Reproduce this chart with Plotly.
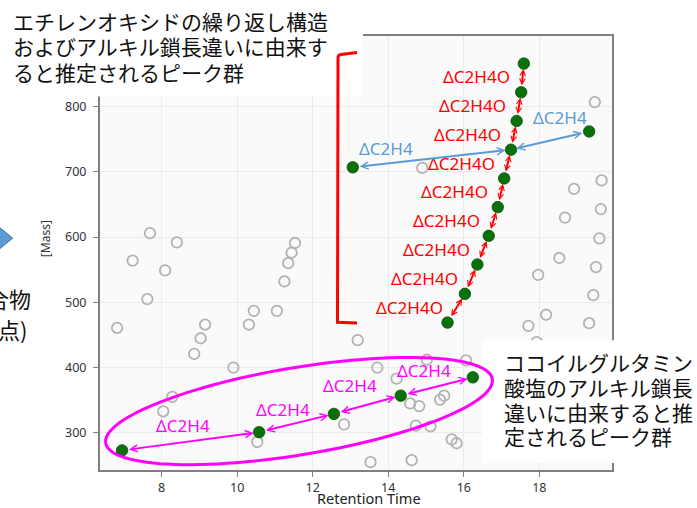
import math
import plotly.graph_objects as go

# ---------------------------------------------------------------- data
# all detected peaks (retention time [min], mass)
rt_other = [7.23, 7.69, 8.09, 8.40, 11.53, 11.44, 11.35, 11.25, 7.62, 6.82,
            8.86, 9.03, 9.15, 8.28, 8.04, 9.90, 10.31, 10.44, 11.05, 10.53,
            12.83, 13.19, 17.71, 18.18, 19.32, 19.43, 17.93, 16.06, 15.02, 13.71,
            14.22, 14.58, 14.82, 15.37, 15.48, 14.73, 15.12, 15.68, 15.81, 14.62,
            13.53, 14.90, 19.47, 18.92, 19.65, 18.68, 19.63, 19.59, 18.53, 19.50,
            17.97]
mass_other = [564, 606, 549, 592, 591, 576, 560, 532, 505, 461,
              421, 445, 466, 355, 333, 400, 466, 487, 487, 286,
              313, 442, 464, 481, 468, 511, 439, 411, 412, 400,
              383, 345, 341, 351, 357, 311, 310, 290, 284, 258,
              255, 706, 807, 674, 687, 630, 643, 598, 568, 554,
              542]

# ethylene-oxide ladder (ΔC2H4O = 44)
rt_eo = [15.57, 16.03, 16.36, 16.66, 16.90, 17.07, 17.25, 17.40, 17.52, 17.59]
mass_eo = [469, 513, 558, 602, 646, 690, 734, 778, 822, 866]

# alkyl-chain neighbours of the 734 peak (ΔC2H4 = 28)
rt_alkyl = [13.06, 19.32]
mass_alkyl = [707, 762]
hub_index = 6  # index in the EO ladder the alkyl neighbours hang from

# cocoyl glutamate alkyl-chain ladder (ΔC2H4 = 28)
rt_glu = [6.95, 10.58, 12.56, 14.33, 16.24]
mass_glu = [273, 301, 329, 357, 385]

x_ticks = [8, 10, 12, 14, 16, 18]
y_ticks = [300, 400, 500, 600, 700, 800]

label_eo = "ΔC2H4O"
label_alkyl = "ΔC2H4"

text_eo = ["エチレンオキシドの繰り返し構造",
           "およびアルキル鎖長違いに由来す",
           "ると推定されるピーク群"]
text_glu = ["ココイルグルタミン",
            "酸塩のアルキル鎖長",
            "違いに由来すると推",
            "定されるピーク群"]
text_side = ["合物", "点)"]

# ---------------------------------------------------------------- layout geometry
W, H = 697, 508
L, R, T, B = 100, 612, 36, 474
X_RANGE = [6.366, 19.925]
Y_RANGE = [243.0, 908.3]

RED = "#ff0000"
BLUE = "#5b9bd5"
MAGENTA = "#ff00ff"
GREEN = "#0a700a"
JP_FONT = "Noto Sans CJK JP"
LAT_FONT = "Noto Sans"


def xp(p):
    """pixel column -> paper x"""
    return (p - L) / (R - L)


def yp(p):
    """pixel row -> paper y"""
    return (B - p) / (B - T)


fig = go.Figure()

fig.add_trace(go.Scatter(
    x=rt_other, y=mass_other, mode="markers",
    marker=dict(symbol="circle-open", size=10.5, color="#b3b3b3",
                line=dict(width=1.8, color="#b3b3b3")),
    hoverinfo="skip", showlegend=False))

for xs, ys in ((rt_eo, mass_eo), (rt_alkyl, mass_alkyl), (rt_glu, mass_glu)):
    fig.add_trace(go.Scatter(
        x=xs, y=ys, mode="markers",
        marker=dict(symbol="circle", size=11.5, color=GREEN,
                    line=dict(width=0.8, color="#075407")),
        hoverinfo="skip", showlegend=False))

annotations = []
shapes = []


def double_arrow(x0, y0, x1, y1, color, size):
    annotations.append(dict(
        x=x1, y=y1, ax=x0, ay=y0, xref="x", yref="y", axref="x", ayref="y",
        text="", showarrow=True, arrowside="end+start",
        arrowhead=5, startarrowhead=5, arrowsize=size, startarrowsize=size,
        arrowwidth=2, arrowcolor=color, standoff=5.5, startstandoff=5.5))


def label(x, y, text, color, xanchor, xshift, yshift):
    annotations.append(dict(
        x=x, y=y, xref="x", yref="y", text=text, showarrow=False,
        xanchor=xanchor, yanchor="middle", xshift=xshift, yshift=yshift,
        font=dict(family=LAT_FONT, size=17, color=color)))


# EO ladder arrows and labels
for i in range(len(rt_eo) - 1):
    double_arrow(rt_eo[i], mass_eo[i], rt_eo[i + 1], mass_eo[i + 1], RED, 0.55)
    label((rt_eo[i] + rt_eo[i + 1]) / 2, (mass_eo[i] + mass_eo[i + 1]) / 2,
          label_eo, RED, "right", -11, 1)

# alkyl neighbours of the hub peak
hx, hy = rt_eo[hub_index], mass_eo[hub_index]
blue_shift = [(-46, 10), (10, 23)]
for (ax_, ay_), (sx, sy) in zip(zip(rt_alkyl, mass_alkyl), blue_shift):
    double_arrow(ax_, ay_, hx, hy, BLUE, 0.7)
    label((ax_ + hx) / 2, (ay_ + hy) / 2, label_alkyl, BLUE, "center", sx, sy)

# cocoyl glutamate ladder
glu_shift = [(-8, 16), (-14, 14), (-17, 19), (-13, 16)]
for i in range(len(rt_glu) - 1):
    double_arrow(rt_glu[i], mass_glu[i], rt_glu[i + 1], mass_glu[i + 1], MAGENTA, 0.7)
    sx, sy = glu_shift[i]
    label((rt_glu[i] + rt_glu[i + 1]) / 2, (mass_glu[i] + mass_glu[i + 1]) / 2,
          label_alkyl, MAGENTA, "center", sx, sy)

# white text boxes over the plot
shapes.append(dict(type="rect", xref="paper", yref="paper", layer="above",
                   x0=xp(-2), x1=xp(363), y0=yp(97), y1=yp(-2),
                   fillcolor="white", line=dict(width=0)))
shapes.append(dict(type="rect", xref="paper", yref="paper", layer="above",
                   x0=xp(482), x1=xp(699), y0=yp(467), y1=yp(343),
                   fillcolor="white", line=dict(width=0)))

# red bracket grouping the EO ladder
shapes.append(dict(type="path", xref="paper", yref="paper", layer="above",
                   path=(f"M{xp(357)},{yp(52.7)} L{xp(341)},{yp(54.6)} "
                         f"Q{xp(338)},{yp(55)} {xp(338)},{yp(58)} "
                         f"L{xp(337.5)},{yp(325)} L{xp(357)},{yp(325.6)}"),
                   line=dict(color=RED, width=3)))

# magenta ellipse around the glutamate ladder
cx, cy, a, b, th = 299.0, 414.5, 196.0, 44.0, math.radians(9.5)
pts = []
for k in range(121):
    t = 2 * math.pi * k / 120
    px = cx + a * math.cos(t) * math.cos(th) - b * math.sin(t) * math.sin(th)
    py = cy - a * math.cos(t) * math.sin(th) - b * math.sin(t) * math.cos(th)
    pts.append(f"{xp(px):.5f},{yp(py):.5f}")
shapes.append(dict(type="path", xref="paper", yref="paper", layer="above",
                   path="M" + " L".join(pts) + " Z",
                   line=dict(color=MAGENTA, width=3)))

# blue chevron at the left edge
shapes.append(dict(type="path", xref="paper", yref="paper", layer="above",
                   path=f"M{xp(-3)},{yp(227)} L{xp(12.7)},{yp(240)} L{xp(-3)},{yp(253)} Z",
                   fillcolor="#5b9bd5", line=dict(color="#41719c", width=1)))

# explanatory texts, one annotation per line for tight line pitch
for i, line in enumerate(text_eo):
    annotations.append(dict(x=xp(11), y=yp(20 + 26 * i), xref="paper", yref="paper",
                            text=line, showarrow=False, xanchor="left", yanchor="middle",
                            height=25, font=dict(family=JP_FONT, size=21, color="#111")))
for i, line in enumerate(text_glu):
    annotations.append(dict(x=xp(502), y=yp(365 + 25 * i), xref="paper", yref="paper",
                            text=line, showarrow=False, xanchor="left", yanchor="middle",
                            height=24, font=dict(family=JP_FONT, size=21, color="#111")))
for i, line in enumerate(text_side):
    annotations.append(dict(x=xp(33 - 4 * i), y=yp(300 + 32 * i), xref="paper", yref="paper",
                            text=line, showarrow=False, xanchor="right", yanchor="middle",
                            font=dict(family=JP_FONT, size=22, color="#111")))

# axis titles
annotations.append(dict(x=xp(369), y=yp(502), xref="paper", yref="paper",
                        text="Retention Time", showarrow=False,
                        xanchor="center", yanchor="middle",
                        font=dict(family=LAT_FONT, size=14.5, color="#222")))
annotations.append(dict(x=xp(45), y=yp(241), xref="paper", yref="paper",
                        text="[Mass]", showarrow=False, textangle=-90,
                        xanchor="center", yanchor="middle",
                        font=dict(family=LAT_FONT, size=12, color="#333")))

axis_common = dict(showline=True, mirror=True, linecolor="#808080", linewidth=2,
                   ticks="outside", ticklen=5, tickcolor="#808080", tickwidth=1,
                   showgrid=True, gridcolor="#ebebeb", gridwidth=1, zeroline=False,
                   tickfont=dict(family=LAT_FONT, size=12.5, color="#333"))

fig.update_layout(
    width=W, height=H,
    margin=dict(l=L, r=W - R, t=T, b=H - B, pad=0),
    paper_bgcolor="white", plot_bgcolor="#fafafa",
    xaxis=dict(range=X_RANGE, tickvals=x_ticks, **axis_common),
    yaxis=dict(range=Y_RANGE, tickvals=y_ticks, ticklabelstandoff=4, **axis_common),
    annotations=annotations, shapes=shapes, showlegend=False,
)

fig.write_html("out.html")
